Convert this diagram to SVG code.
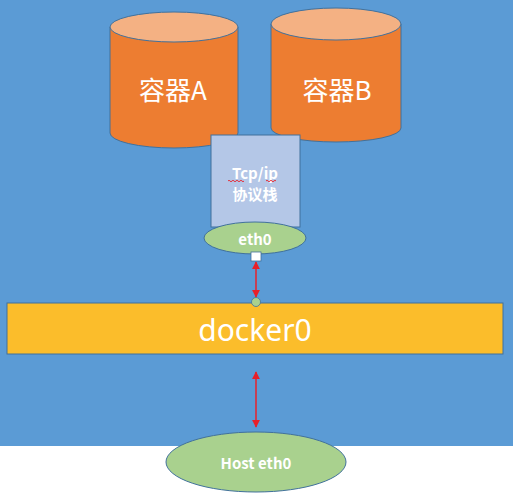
<svg xmlns="http://www.w3.org/2000/svg" width="513" height="497" viewBox="0 0 513 497">
<style>
  .cyl-body{fill:#ED7D31;stroke:#41719C;stroke-width:1}
  .cyl-top{fill:#F4B183;stroke:#41719C;stroke-width:1}
  .big{font-family:"Noto Sans CJK SC","Noto Sans",sans-serif;font-size:26px;fill:#FFFFFF;text-anchor:middle;dominant-baseline:central}
  .lbl{font-family:"Noto Sans CJK SC","Noto Sans",sans-serif;font-size:15px;font-weight:bold;fill:#FFFFFF;text-anchor:middle;dominant-baseline:central}
  .link{stroke:#E8202A;stroke-width:1.5;fill:none}
  .ell{fill:#A9D18E;stroke:#41719C;stroke-width:1}
</style>
<defs>
  <marker id="ah" viewBox="0 0 10 10" refX="9" refY="5" markerWidth="5.5" markerHeight="5.5" orient="auto-start-reverse" markerUnits="strokeWidth">
    <path d="M0,0 L10,5 L0,10 z" fill="#E8202A"/>
  </marker>
</defs>
<rect x="0" y="0" width="513" height="446" fill="#5B9BD5"/>
<g id="containerA">
  <path class="cyl-body" d="M110,27 L110,133 A64,15 0 0 0 238,133 L238,27 Z"/>
  <ellipse class="cyl-top" cx="174" cy="27" rx="64" ry="15"/>
  <text class="big" x="173" y="88">容器A</text>
</g>
<g id="containerB">
  <path class="cyl-body" d="M271,24 L271,128 A65,14 0 0 0 401,128 L401,24 Z"/>
  <ellipse class="cyl-top" cx="336" cy="24" rx="65" ry="16"/>
  <text class="big" x="337" y="88">容器B</text>
</g>
<g id="tcpip">
  <rect x="211" y="135" width="89" height="92" fill="#B4C7E7" stroke="#41719C" stroke-width="1"/>
  <text class="lbl" x="255" y="172">Tcp/ip</text>
  <text class="lbl" x="255" y="193">协议栈</text>
  <path d="M228,181 q1,-1.5 2,0 t2,0 t2,0 t2,0 t2,0 t2,0 t2,0 t2,0 M266,181 q1,-1.5 2,0 t2,0 t2,0 t2,0 t2,0" stroke="#E8202A" stroke-width="0.9" fill="none"/>
</g>
<g id="eth0">
  <ellipse class="ell" cx="255" cy="238" rx="51" ry="16"/>
  <text class="lbl" x="255" y="238" font-size="16">eth0</text>
</g>
<g id="docker0">
  <rect x="7" y="303" width="496" height="51" fill="#FBBD2B" stroke="#41719C" stroke-width="1"/>
  <text x="255" y="329" font-family="'Noto Sans','Liberation Sans',sans-serif" font-size="30" fill="#FFFFFF" text-anchor="middle" dominant-baseline="central">docker0</text>
</g>
<g id="hosteth0">
  <ellipse class="ell" cx="256" cy="462" rx="90" ry="30"/>
  <text class="lbl" x="256" y="462">Host eth0</text>
</g>
<g id="connectors">
  <line class="link" x1="256" y1="262" x2="256" y2="297" marker-start="url(#ah)" marker-end="url(#ah)"/>
  <rect x="251" y="252" width="10" height="9" fill="#FFFFFF" stroke="#41719C" stroke-width="0.8"/>
  <circle cx="256" cy="302" r="4.5" fill="#A9D18E" stroke="#41719C" stroke-width="0.8"/>
  <line class="link" x1="256" y1="372" x2="256" y2="427" marker-start="url(#ah)" marker-end="url(#ah)"/>
</g>
</svg>
